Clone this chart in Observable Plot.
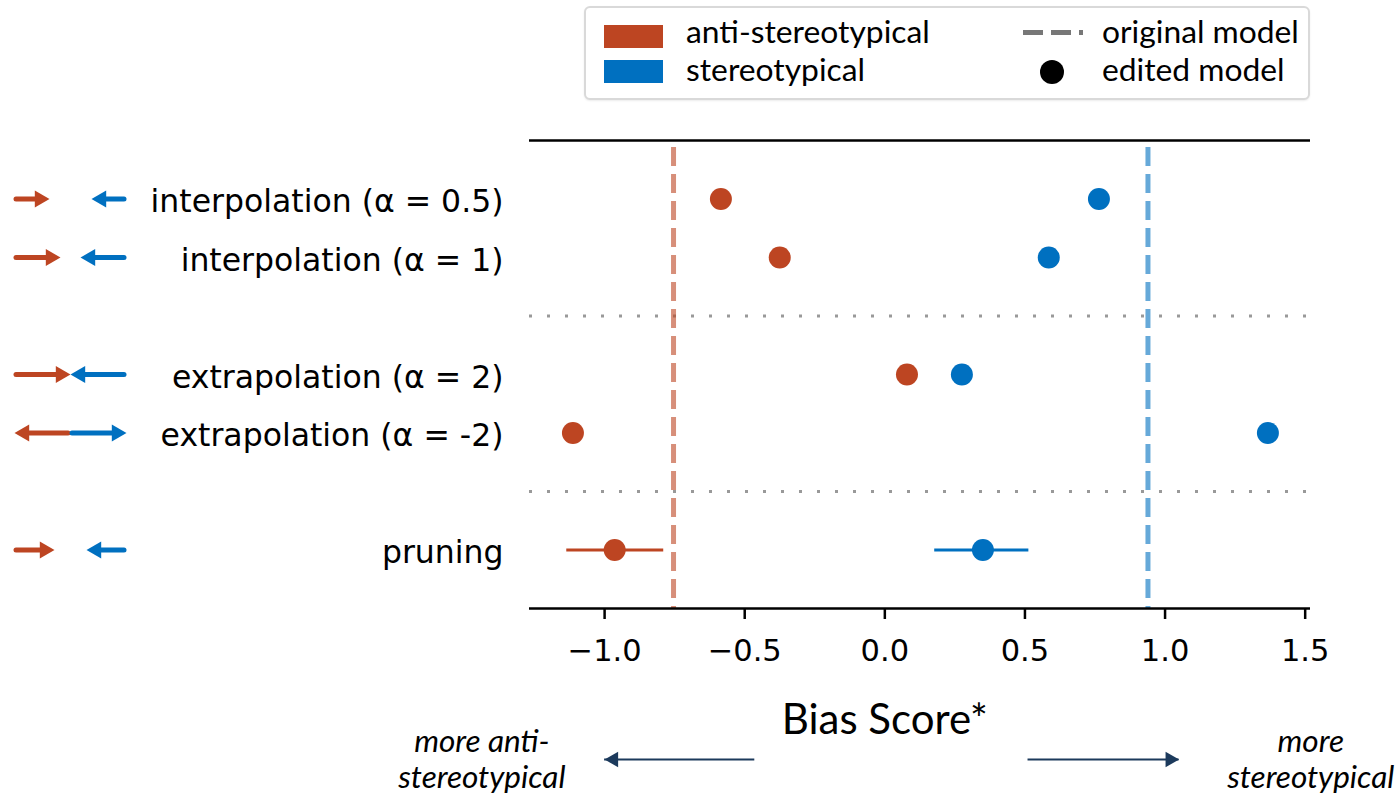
<!DOCTYPE html>
<html><head><meta charset="utf-8">
<script src="https://cdn.jsdelivr.net/npm/d3@7"></script>
<script src="https://cdn.jsdelivr.net/npm/@observablehq/plot@0.6"></script>
<style>
body{margin:0;background:#fff;}
#fig{position:relative;width:1396px;height:796px;overflow:hidden;background:#fff;}
#fig svg{position:absolute;top:0;}
.lg{position:absolute;font-family:Lato,sans-serif;font-size:31.8px;line-height:40px;height:40px;color:#000;white-space:nowrap;}
</style></head>
<body><div id="fig"></div>
<script>
// ---- data ----
const rows = ["interpolation (α = 0.5)", "interpolation (α = 1)", "extrapolation (α = 2)", "extrapolation (α = -2)", "pruning"];
const antiScore   = [-0.585, -0.375, 0.079, -1.113, -0.964];
const stereoScore = [0.764, 0.585, 0.275, 1.367, 0.350];
const pruningAntiCI   = [-1.135, -0.789];
const pruningStereoCI = [0.178, 0.514];
const originalAnti = -0.754;
const originalStereo = 0.939;
const xTicks = [-1.0, -0.5, 0.0, 0.5, 1.0, 1.5];
// direction glyphs next to the labels (length in glyph px, direction +1 right / -1 left)
const glyphLen  = [33, 44, 54, 54, 38];
const antiDir   = [1, 1, 1, -1, 1];
const stereoDir = [-1, -1, -1, 1, -1];
const groups = ["anti-stereotypical", "stereotypical"];
const colors = ["#BD4522", "#0070C0"];
const xLabel = "Bias Score*";
const cueLeft = "more anti-\nstereotypical";
const cueRight = "more\nstereotypical";

// ---- layout of rows with separators ----
const layout = [rows[0], rows[1], "", rows[2], rows[3], "", rows[4]];
const yOf = r => layout.indexOf(r);
const sepSlots = layout.map((d, i) => d === "" ? i : null).filter(i => i !== null);

const points = rows.flatMap((r, i) => [
  {row: r, group: groups[0], score: antiScore[i]},
  {row: r, group: groups[1], score: stereoScore[i]}
]);
const originals = [{group: groups[0], score: originalAnti}, {group: groups[1], score: originalStereo}];
const cis = [
  {row: "pruning", group: groups[0], lo: pruningAntiCI[0], hi: pruningAntiCI[1]},
  {row: "pruning", group: groups[1], lo: pruningStereoCI[0], hi: pruningStereoCI[1]}
];
const cueArrows = [{tail: -0.464, tip: -1.0, dir: -1}, {tail: 0.511, tip: 1.05, dir: 1}];
const cueY = 9.581;
const NAVY = "#1C3A5C";

const color = {domain: groups, range: colors};
const yScale = {domain: [-1, 7], range: [140, 608], axis: null};

const main = Plot.plot({
  width: 1396, height: 796,
  marginTop: 140, marginBottom: 188, marginLeft: 529, marginRight: 86,
  x: {domain: [-1.268, 1.519], range: [529, 1310]},
  y: {domain: [-1, 7], range: [140, 608]},
  color,
  style: {fontFamily: "DejaVu Sans", fontSize: "30px", background: "transparent", overflow: "visible"},
  marks: [
    Plot.ruleY(sepSlots, {stroke: "#999", strokeWidth: 3, strokeDasharray: "3 15"}),
    Plot.ruleX(originals, {x: "score", stroke: "group", strokeOpacity: 0.6, strokeWidth: 5, strokeDasharray: "19 8", strokeDashoffset: -7}),
    Plot.ruleY([-1, 7], {stroke: "#000", strokeWidth: 2.6}),
    Plot.ruleY(cis, {y: d => yOf(d.row), x1: "lo", x2: "hi", stroke: "group", strokeWidth: 2.8}),
    Plot.dot(points, {x: "score", y: d => yOf(d.row), fill: "group", r: 11}),
    Plot.axisX({ticks: xTicks, tickFormat: d3.format(".1f"), tickSize: 11, tickPadding: 20, strokeWidth: 2.5, fontSize: 30.5, fontFamily: "DejaVu Sans", label: null}),
    Plot.axisY({ticks: rows.map(yOf), tickFormat: i => layout[i], tickSize: 0, tickPadding: 26, fontSize: 31.5, dy: 3, fontFamily: "DejaVu Sans", label: null}),
    Plot.text([xLabel], {x: 0, y: 8.908, text: d => d, fontFamily: "Lato", fontSize: 42, lineAnchor: "middle", fill: "#000"}),
    Plot.text([cueLeft], {x: -1.438, y: 9.56, text: d => d, fontFamily: "Lato", fontStyle: "italic", fontSize: 31.5, lineHeight: 1.17, lineAnchor: "middle", fill: "#000"}),
    Plot.text([cueRight], {x: 1.52, y: 9.56, text: d => d, fontFamily: "Lato", fontStyle: "italic", fontSize: 31.5, lineHeight: 1.17, lineAnchor: "middle", fill: "#000"}),
    Plot.ruleY(cueArrows, {y: cueY, x1: "tail", x2: "tip", stroke: NAVY, strokeWidth: 2}),
    Plot.dot(cueArrows.filter(d => d.dir < 0), {x: "tip", y: cueY, symbol: "triangle", rotate: -90, r: 5.8, fill: NAVY, dx: 9}),
    Plot.dot(cueArrows.filter(d => d.dir > 0), {x: "tip", y: cueY, symbol: "triangle", rotate: 90, r: 5.8, fill: NAVY, dx: -9})
  ]
});

// glyph arrows beside the labels
const glyphs = rows.flatMap((r, i) => {
  const L = glyphLen[i];
  const a = {row: r, group: groups[0], lo: 16, hi: 14 + L, dir: antiDir[i]};
  const s = {row: r, group: groups[1], lo: 126 - L, hi: 124, dir: stereoDir[i]};
  return [a, s].map(g => ({...g, tail: g.dir > 0 ? g.lo : g.hi, tip: g.dir > 0 ? g.hi + 2 : g.lo - 2}));
});
const H = 14.7;
const side = Plot.plot({
  width: 140, height: 796,
  marginTop: 140, marginBottom: 188, marginLeft: 0, marginRight: 0,
  x: {domain: [0, 140], range: [0, 140], axis: null},
  y: yScale,
  color,
  style: {background: "transparent", overflow: "visible"},
  marks: [
    Plot.ruleY(glyphs, {y: d => yOf(d.row), x1: "tail", x2: d => d.tip - d.dir * (H - 3), stroke: "group", strokeWidth: 5, strokeLinecap: "round"}),
    Plot.dot(glyphs.filter(d => d.dir > 0), {x: "tip", y: d => yOf(d.row), symbol: "triangle", rotate: 90, r: 6.3, fill: "group", dx: -H * 2 / 3}),
    Plot.dot(glyphs.filter(d => d.dir < 0), {x: "tip", y: d => yOf(d.row), symbol: "triangle", rotate: -90, r: 6.3, fill: "group", dx: H * 2 / 3})
  ]
});

const fig = document.getElementById("fig");
main.style.left = "0px";
side.style.left = "0px";
fig.appendChild(main);
fig.appendChild(side);

// legend
function el(css, text) {
  const d = document.createElement("div");
  d.style.cssText = "position:absolute;" + css;
  if (text != null) { d.className = "lg"; d.textContent = text; }
  fig.appendChild(d);
  return d;
}
el("left:584px;top:6px;width:722px;height:90px;border:2px solid #d9d9d9;border-radius:6px;background:#fff;box-shadow:0 1px 2px rgba(0,0,0,0.08);");
el(`left:604px;top:25px;width:59px;height:23px;background:${colors[0]};`);
el(`left:604px;top:60px;width:59px;height:23px;background:${colors[1]};`);
el("left:686px;top:11px;", groups[0]);
el("left:686px;top:49px;", groups[1]);
el("left:1023px;top:30px;width:60px;height:5px;background:repeating-linear-gradient(to right,#777 0 20px,transparent 20px 28px);");
el("left:1040px;top:60px;width:24px;height:24px;border-radius:50%;background:#000;");
el("left:1102px;top:11px;", "original model");
el("left:1102px;top:49px;", "edited model");
</script>
</body></html>
